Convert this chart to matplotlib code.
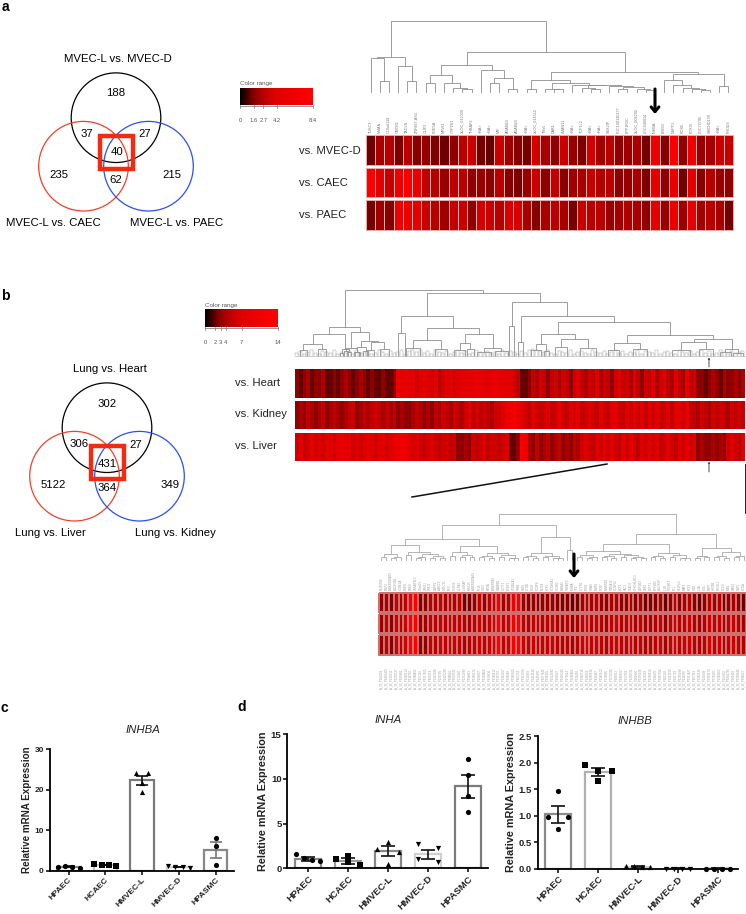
import numpy as np
import matplotlib
matplotlib.use("Agg")
import matplotlib.pyplot as plt
from matplotlib.colors import LinearSegmentedColormap
from matplotlib.patches import Circle, Rectangle

plt.rcParams.update({
    "font.family": ["Liberation Sans", "DejaVu Sans"],
    "font.size": 8,
    "axes.linewidth": 1.3,
})

W, H = 746, 914

# ---- venn counts
venn_a_counts = ["188", "37", "27", "40", "235", "215", "62"]
venn_a_names = ["MVEC-L vs. MVEC-D", "MVEC-L vs. CAEC", "MVEC-L vs. PAEC"]
venn_b_counts = ["302", "306", "27", "431", "5122", "349", "364"]
venn_b_names = ["Lung vs. Heart", "Lung vs. Liver", "Lung vs. Kidney"]

# ---- panel a heatmap
genes_a = ["TUSC3", "MMAA", "C19orf118", "CMTR1", "TAGLN", "ZNF667-AS1", "CLIP2", "PDE5A", "MRVI1", "CYP2S1",
           "XLOC_012039", "THBAP3", "<NA>", "<NA>", "MIF", "ADAM23", "ADAM23", "<NA>", "XLOC_014512", "TMx5",
           "DAB1", "LMAN11", "<NA>", "TCP1L2", "<NA>", "<NA>", "SSX2IP", "LOC100130177", "PPP1R3C", "XLOC_004202",
           "LOC646914", "INHBA", "KISS3", "NUPP1", "ROS5", "FOXI3", "LOC72795", "SMCHD139", "<NA>", "PHOD3"]
rows_a = ["vs. MVEC-D", "vs. CAEC", "vs. PAEC"]
mvec_d = [1.3, 2.3, 2.6, 1.5, 2.8, 1.6, 1.9, 1.5, 1.3, 1.8, 2.7, 3.3, 1.4, 1.2, 3.3, 2.1, 1.6, 1.4, 3.7, 2.3,
          1.8, 3.3, 2.0, 1.5, 3.7, 2.2, 2.7, 1.8, 2.1, 2.3, 1.4, 6.0, 1.6, 7.5, 1.8, 6.0, 2.0, 2.3, 3.3, 3.3]
caec = [8.0, 4.5, 3.3, 6.0, 7.5, 5.5, 3.0, 2.6, 2.0, 2.8, 2.7, 1.8, 2.0, 1.7, 2.7, 1.6, 1.5, 2.0, 3.3, 1.8,
        3.0, 1.7, 2.1, 2.3, 3.3, 2.5, 2.8, 1.7, 2.0, 2.3, 1.5, 4.8, 1.8, 5.0, 1.3, 4.8, 1.6, 2.6, 2.0, 1.8]
paec = [1.4, 2.1, 1.6, 6.0, 5.5, 4.3, 3.3, 2.6, 2.1, 3.2, 3.3, 1.8, 3.7, 3.3, 2.7, 3.9, 3.9, 2.3, 1.6, 2.3,
        2.7, 2.3, 1.4, 3.3, 2.7, 2.7, 2.0, 2.2, 2.5, 2.3, 1.8, 4.8, 2.0, 5.5, 2.1, 5.0, 2.2, 2.7, 2.3, 1.4]
range_a = [0, 1.6, 2.7, 4.2, 8.4]

# nested merges: [height, left, right], a bare number is a column
tree_a = [71,
          [35, [34, 0, [11, 1, 2]], [26, 3, [11, 4, 5]]],
          [40,
           [27,
            [17, [9, 6, 7], [9, 8, [4, 9, [3, 10, 11]]]],
            [22, 12, [14, [9, 13, 14], [3, 15, 16]]]],
           [20,
            [12, [3.5, 17, 18],
             [9, [3.5, 19, [3, 20, 21]],
              [7.5, 22, [7, [4, 23, [3, 24, 25]], [6, 26, [5, [3, 27, 28], [3, 29, [2, 30, 31]]]]]]]],
            [18, [12, 32, [7, 33, [4, 34, [3, 35, [2.5, 36, 37]]]]], [6, 38, 39]]]]]

# ---- panel b upper heatmap (binned columns)
rows_b = ["vs. Heart", "vs. Kidney", "vs. Liver"]
heart = [3, 2, 3, 4, 2, 3, 3, 4, 2, 2, 3, 2, 3, 4, 3, 2, 3, 4, 3, 2, 3, 2, 2, 3, 2, 2, 3,
         10, 8, 9, 7, 8, 6, 7, 8, 7, 6, 7, 5, 6, 7, 8, 6, 7, 7, 8, 8, 8, 9, 8, 8, 7, 8, 9, 8, 8, 7, 7, 6, 5,
         2, 2, 3, 5, 4, 6, 5, 3, 5, 6, 4, 6, 5, 3, 6, 7, 5, 4, 6, 5, 7, 4, 6, 5, 3, 6, 7, 5, 6, 4, 7, 5, 3, 6,
         5, 7, 4, 6, 8, 5, 4, 7, 5, 4, 8, 5, 6, 3, 3, 2, 3, 4, 3, 2, 4, 3, 3, 4, 3, 4]
kidney = [3, 4, 3, 5, 4, 3, 4, 5, 3, 4, 5, 4, 3, 4, 5, 6, 3, 4, 5, 4, 5, 6, 5, 4, 5, 4, 5,
          3, 4, 3, 3, 4, 5, 4, 3, 4, 3, 5, 4, 6, 5, 4, 6, 5, 4, 6, 7, 5, 6, 5, 6, 5, 4, 6, 6, 7, 9, 10, 12, 9,
          8, 6, 5, 7, 6, 5, 6, 7, 5, 6, 8, 6, 5, 7, 6, 8, 5, 6, 7, 6, 5, 7, 6, 5, 7, 8, 6, 5, 7, 6, 8, 6, 7, 5,
          7, 6, 8, 5, 6, 7, 5, 7, 8, 6, 9, 5, 5, 4, 6, 5, 4, 6, 5, 6, 5, 4, 6, 5, 6, 5]
liver = [6, 7, 5, 6, 8, 6, 7, 6, 8, 7, 6, 8, 9, 7, 8, 6, 7, 6, 7, 8, 7, 6, 7, 8, 6, 7, 8,
         9, 11, 10, 8, 6, 7, 6, 5, 6, 7, 6, 5, 6, 6, 5, 6, 3, 3, 4, 3, 6, 5, 6, 7, 5, 6, 6, 5, 6, 7, 2, 2, 3,
         12, 11, 4, 3, 5, 3, 4, 5, 3, 4, 5, 3, 4, 3, 5, 4, 6, 7, 6, 5, 7, 6, 8, 6, 7, 6, 5, 7, 6, 8, 6, 5, 7, 6,
         8, 6, 7, 5, 6, 8, 6, 5, 7, 6, 8, 6, 7, 3, 4, 3, 3, 4, 3, 4, 3, 6, 7, 6, 5, 7]
range_b = [0, 2, 3, 4, 7, 14]

# bare numbers here are positions along the heatmap, 0..1270 from the left of a 1570 wide scan
tree_b = [66,
          [29,
           [22, [12, [6, 310, 330], [7, 360, 384]], [7, [3, 424, 432], [4, 442, 454]]],
           [24, [8, [5, 434, 446], [4, 464, 476]],
            [15, [9, [4, 462, 478], [5, 488, 502]], [14, [6, 500, 520], [7, 536, 560]]]]],
          [63,
           [40,
            [23, 587, 605],
            [28, [16, [8, 610, 650], [7, 690, 724]],
             [22, [13, [6, 745, 775], [7, 780, 800]], [8, [4, 810, 850], [5, 860, 896]]]]],
           [54,
            [30, 900, 915],
            [40,
             [14, 925, 940],
             [34,
              [22, [12, [6, 962, 990], [5, 998, 1012]], [17, [9, 1030, 1064], [8, 1100, 1146]]],
              [21, [13, [6, 1180, 1210], [7, 1250, 1290]],
               [17, [14, [6, 1360, 1410], [7, 1435, 1475]], [7, [4, 1495, 1525], [3, 1530, 1560]]]]]]]]]

leaf_b = [3, 5, 2, 4, 6, 3, 2, 5, 4, 3, 6, 2, 4, 3, 5, 2, 6, 3, 4, 5, 2, 3, 6, 4, 2, 5, 3, 4, 6, 2,
          5, 6, 4, 6, 3, 5, 2, 6, 4, 3, 5, 2, 4, 6, 3, 5, 2, 3, 6, 4, 2, 5, 3, 4, 2, 6, 3, 5, 4, 2,
          5, 3, 6, 7, 6, 5, 4, 6, 3, 2, 5, 4, 3, 6, 2, 4, 5, 3, 2, 6, 4, 3, 5, 2, 4, 6, 3, 5, 2, 4,
          3, 6, 2, 5, 4, 3, 6, 2, 4, 5, 3, 2, 6, 4, 3, 5, 2, 4, 6, 3, 5, 2, 3, 6, 4, 2, 5, 3, 4, 5]

# ---- panel b lower heatmap
genes_low = ["FLJ45340", "FNIP2", "ANKRD20A19", "ALDH1B1", "CCBE1A", "PSEN", "PRKG", "TNFAIP8L3", "CSorf25", "SNX31",
             "TRIO3", "DAPP1", "ABCC3", "LRRC32", "BTK", "CCR7B", "LILRB2", "IL31RAP", "KISS15", "ANKRD20A19",
             "IFI16", "CD37", "MR2A", "ANKRD45", "GABBR2", "GCTT5", "DPEP2", "SCGB1A1", "PRB3", "PLEK",
             "CTGB", "HCST", "DCDP4", "FLJD4", "KCP1", "SCGB3A1", "SCGB3", "MBNA1", "TNFAIP3", "INHBA",
             "SP1", "CYCR1", "FOS3", "HRAS", "MMP3", "RCR7", "ANKRD2", "ISYNA12", "CCNP32", "KCP1",
             "VAC1", "SLAC4", "STRDSLRC3", "ZBP1B3", "VBX1", "DEFT1", "DPF1B3", "ALOX5P", "IL1R", "SYDM12",
             "IFI1", "SELPLG", "MAF1", "KCF3", "IGD1", "IL1A", "CXIL", "NBPT", "HOXB1", "PSIDK3",
             "GCLH", "INB1", "VMD4", "CAP1", "CCDA"]
probes_low = ["164193", "3410405", "215532", "3370127", "105482", "3290114", "316720", "3388402", "257116", "3217605",
              "409218", "3362248", "126735", "3415290", "288041", "3302576", "172946", "3251083", "358821", "3399174",
              "204657", "3328860", "419036", "3266412", "135792", "3381057", "293648", "3240915", "367204", "3351768",
              "110893", "3423516", "245370", "3277649", "398125", "3314082", "183567", "3405239", "272914", "3236801",
              "326450", "3392716", "148029", "3289534", "431867", "3345102", "219685", "3270348", "385912", "3418067",
              "157304", "3258791", "304826", "3376245", "421563", "3228910", "196478", "3367032", "263105", "3412679",
              "342718", "3295480", "118956", "3331827", "407263", "3283516", "231049", "3359174", "376590", "3248263",
              "167832", "3401795", "285416", "3320648", "394027"]
low1 = [1.7, 2.4, 1.5, 3.2, 2.4, 3.0, 7.0, 8.5, 1.5, 1.7, 2.6, 2.4, 2.9, 2.3, 2.8, 2.5, 2.8, 1.3, 1.4, 1.9,
        2.8, 1.9, 2.7, 3.2, 6.5, 2.2, 2.6, 6.0, 7.0, 2.0, 1.7, 1.9, 1.7, 1.8, 1.9, 2.0, 1.6, 1.5, 1.6, 1.1,
        1.4, 2.2, 2.5, 2.2, 2.8, 1.9, 1.8, 2.3, 2.5, 1.8, 2.0, 2.4, 1.6, 2.3, 1.4, 1.5, 1.6, 2.2, 1.2, 2.0,
        2.6, 1.8, 2.3, 2.5, 1.6, 1.3, 1.7, 2.6, 2.1, 2.4, 1.5, 2.0, 2.2, 1.9, 1.2]
low2 = [2.0, 3.0, 1.7, 3.6, 2.6, 3.4, 8.0, 9.5, 2.0, 2.2, 3.0, 2.8, 3.2, 2.8, 3.2, 3.0, 3.2, 2.6, 2.4, 2.8,
        3.4, 2.6, 3.2, 3.8, 8.0, 3.0, 3.4, 7.0, 8.0, 2.8, 2.6, 3.0, 2.8, 2.8, 3.0, 3.0, 2.6, 2.4, 2.6, 2.0,
        2.4, 3.2, 3.4, 2.8, 3.2, 2.6, 2.4, 3.0, 3.4, 2.6, 2.8, 3.2, 2.4, 3.0, 2.2, 2.4, 2.6, 3.2, 2.0, 3.0,
        3.4, 2.6, 3.2, 3.4, 2.6, 2.2, 2.6, 3.6, 3.0, 3.2, 2.4, 3.0, 3.2, 2.8, 2.2]
low3 = [1.9, 2.8, 1.6, 3.4, 2.8, 3.6, 8.5, 9.0, 1.7, 1.8, 3.0, 2.6, 3.4, 3.0, 3.4, 3.2, 3.0, 2.4, 2.6, 3.0,
        3.6, 2.8, 3.4, 4.0, 8.5, 3.2, 3.6, 7.5, 8.5, 3.2, 3.0, 3.4, 3.0, 3.2, 3.2, 3.4, 2.8, 2.6, 2.8, 2.2,
        2.6, 3.4, 3.6, 3.0, 3.4, 2.8, 2.6, 3.2, 3.6, 2.8, 3.0, 3.4, 2.6, 3.2, 2.4, 2.6, 2.8, 3.4, 2.2, 3.2,
        3.6, 2.8, 3.4, 3.6, 2.8, 2.4, 2.8, 3.8, 3.2, 3.4, 2.6, 3.2, 3.4, 3.0, 2.4]

tree_low = [46,
            [35,
             [21,
              [15, [6, [3, 0, 1], [3, [2, 2, 3], 4]],
               [8, [5, 5, 6], [6, [3, [2, 7, 8], 9], [4, [2, 10, 11], [2, 12, 13]]]]],
              [14, [8, [4, 14, 15], [5, [3, 16, 17], [3, 18, 19]]],
               [7, [4, [3, 20, 21], [2, 22, 23]], [5, [3, 24, 25], [2, [2, 26, 27], 28]]]]],
             [23,
              [7, [4, [3, 29, 30], [2, 31, 32]], [4, [3, 33, 34], [2, [2, 35, 36], 37]]],
              [10, 38, 39]]],
            [26,
             [16,
              [9, [5, [3, 40, 41], [3, [2, 42, 43], 44]],
               [6, [4, [3, 45, 46], [2, 47, 48]], [5, [3, 49, 50], [3, [2, 51, 52], [2, 53, 54]]]]],
              [7, [4, [3, 55, 56], [2, 57, 58]], [5, [3, 59, 60], [2, [2, 61, 62], 63]]]],
             [12,
              [4, [2, 64, 65], [3, 66, 67]],
              [8, [4, [3, 68, 69], [2, 70, 71]], [4, [3, 72, 73], 74]]]]]

# ---- panels c, d
cells = ["HPAEC", "HCAEC", "HMVEC-L", "HMVEC-D", "HPASMC"]
cell_markers = ["o", "s", "^", "v", "o"]
spread = [-0.3, -0.1, 0.1, 0.3]

inhba_mean = [1.0, 1.4, 22.3, 0.9, 5.1]
inhba_sem = [0.1, 0.1, 1.1, 0.1, 2.0]
inhba_edge = ["#8a8a8a", "#c4c4c4", "#7a7a7a", "#d0d0d0", "#888888"]
inhba_pts = [[1.0, 1.05, 0.95, 0.7], [1.6, 1.5, 1.45, 1.25], [24.2, 19.5, 24.0, 21.5], [1.2, 1.0, 0.8, 0.7], [8.1, 6.0, 1.3]]
inhba_dx = [spread, spread, [-0.17, 0.0, 0.17, 0.0], spread, [0, 0, 0]]

inha_mean = [1.05, 0.8, 1.9, 1.55, 9.2]
inha_sem = [0.2, 0.3, 0.55, 0.55, 1.3]
inha_edge = ["#8a8a8a", "#9a9a9a", "#888888", "#d0d0d0", "#7a7a7a"]
inha_pts = [[1.55, 1.15, 0.9, 0.8], [1.05, 1.4, 0.65, 0.35], [2.9, 2.2, 1.8, 0.5], [2.7, 2.3, 1.0, 0.7], [12.2, 10.4, 8.1, 6.3]]
inha_dx = [[-0.3, -0.1, 0.1, 0.3], [-0.3, 0, 0, 0.3], [0, -0.28, 0.28, 0], [-0.25, 0.25, -0.25, 0.25], [0, 0, 0, 0]]

inhbb_mean = [1.03, 1.82, 0.04, 0.01, 0.005]
inhbb_sem = [0.16, 0.08, 0.005, 0.005, 0.003]
inhbb_edge = ["#8a8a8a", "#b0b0b0", "#d0d0d0", "#d0d0d0", "#d0d0d0"]
inhbb_pts = [[1.46, 0.98, 0.98, 0.75], [1.96, 1.85, 1.85, 1.66], [0.06, 0.05, 0.04, 0.03], [0.0, -0.01, -0.01, 0.0], [0.0, -0.005, 0.0, 0.0]]
inhbb_dx = [[0, -0.25, 0.25, 0], [-0.33, 0, 0.33, 0], spread, spread, spread]

cmap = LinearSegmentedColormap.from_list("range", [
    (0.0, (0, 0, 0)), (0.19, (135/255, 0, 0)), (0.32, (185/255, 0, 0)),
    (0.5, (225/255, 0, 0)), (1.0, (1, 0, 0))])

fig = plt.figure(figsize=(W/100, H/100), dpi=100)
ax = fig.add_axes([0, 0, 1, 1])
ax.set_xlim(0, W)
ax.set_ylim(H, 0)
ax.axis("off")


def venn(cx, cy, counts, names, square, spots, name_spots):
    for dx, dy, col in [(0, 0, "black"), (-32.5, 48.5, "#f0402a"), (32.5, 48.5, "#2a50f0")]:
        ax.add_patch(Circle((cx + dx, cy + dy), 44.8, fill=False, ec=col, lw=0.9))
    ax.add_patch(Rectangle(square[:2], square[2], square[3], fill=False, ec="#f22a10", lw=3.2, zorder=3))
    for s, (x, y) in zip(counts, spots):
        ax.text(x, y, s, ha="center", va="center", fontsize=8.2, zorder=4)
    for s, (x, y) in zip(names, name_spots):
        ax.text(x, y, s, ha="center", va="center", fontsize=8.2)


venn(116, 117.7, venn_a_counts, venn_a_names, (99.5, 135.5, 33, 33),
     [(116, 93), (87, 134), (145, 134), (117, 152), (59, 175), (172, 175), (116, 180)],
     [(118, 59), (53, 223), (177, 223)])
venn(107, 427.7, venn_b_counts, venn_b_names, (91, 445.5, 33, 33),
     [(107, 404), (79, 444), (136, 445), (107, 464), (53, 485), (170, 485), (107, 488)],
     [(110, 369), (50, 533), (175, 533)])


def heat_row(vals, x0, x1, y0, y1, vmax, edge=None, lw=0.0):
    xs = np.linspace(x0, x1, len(vals) + 1)
    ax.pcolormesh(xs, [y0, y1], np.array(vals)[None, :], cmap=cmap, vmin=0, vmax=vmax,
                  edgecolors=edge if edge else "face", linewidth=lw)


def color_range(x0, x1, y0, y1, ticks, label_y):
    vmax = ticks[-1]
    grad = np.linspace(0, vmax, 256)
    ax.pcolormesh(np.linspace(x0, x1, 257), [y0, y1], grad[None, :], cmap=cmap, vmin=0, vmax=vmax)
    ax.plot([x0, x1], [y1 + 0.5, y1 + 0.5], color="#999999", lw=0.7)
    ax.text(x0, y0 - 4, "Color range", fontsize=4.5, color="#555555", va="center")
    for t in ticks:
        px = x0 + (x1 - x0) * t / vmax
        ax.plot([px, px], [y1, y1 + 2.5], color="#777777", lw=0.5)
        ax.text(px, label_y, f"{t:g}", fontsize=4.2, color="#555555", ha="center", va="center")


def dendro(node, to_x, base, scale, color="#8e8e8e", lw=0.6):
    # returns x, y of the node so the parent can join on
    if not isinstance(node, list):
        return to_x(node), base
    lx, ly = dendro(node[1], to_x, base, scale, color, lw)
    rx, ry = dendro(node[2], to_x, base, scale, color, lw)
    y = base - node[0] * scale
    ax.plot([lx, lx, rx, rx], [ly, y, y, ry], color=color, lw=lw, solid_joinstyle="miter")
    return (lx + rx) / 2, y


def arrow(x, y0, y1, lw, head):
    ax.annotate("", xy=(x, y1), xytext=(x, y0), zorder=6,
                arrowprops=dict(arrowstyle=f"->,head_width={head},head_length={head*1.2}",
                                lw=lw, color="black", shrinkA=0, shrinkB=0))


# panel a right side
xa0, xa1 = 366, 733
for vals, (y0, y1), name in zip([mvec_d, caec, paec], [(135, 165), (168, 197), (200, 230)], rows_a):
    heat_row(vals, xa0, xa1, y0, y1, range_a[-1], edge="#e8a8a8", lw=0.45)
    ax.text(299, (y0 + y1) / 2 + 0.5, name, fontsize=8.1, va="center", color="#222222")
color_range(240, 313, 88, 105, range_a, 120)
cw = (xa1 - xa0) / len(genes_a)
dendro(tree_a, lambda c: xa0 + cw * (c + 0.5), 92, 1.0)
for i, g in enumerate(genes_a):
    ax.text(xa0 + cw * (i + 0.5), 133, g, rotation=90, fontsize=2.7, color="#777777", ha="center", va="bottom")
arrow(655, 89, 114, 2.2, 0.35)

# panel b right side
xb0, xb1 = 295, 745
for vals, (y0, y1), name in zip([heart, kidney, liver], [(369, 397.5), (400.5, 429), (432.5, 461)], rows_b):
    heat_row(vals, xb0, xb1, y0, y1, range_b[-1])
    ax.text(235, (y0 + y1) / 2 - 0.5, name, fontsize=8.1, va="center", color="#222222")
color_range(205, 278, 309, 327, range_b, 342)
dendro(tree_b, lambda p: 190 + p / 2.82, 356, 1.0, lw=0.6)
step = (xb1 - xb0) / len(leaf_b)
for i, h in enumerate(leaf_b):
    lx = xb0 + step * i
    ax.plot([lx, lx, lx + step * 0.8, lx + step * 0.8], [356, 356 - h, 356 - h, 356], color="#a0a0a0", lw=0.35)
ax.plot([xb0, xb1], [356, 356], color="#bbbbbb", lw=0.5)
arrow(709, 367, 358, 0.5, 0.07)
arrow(709, 472, 462, 0.5, 0.07)
ax.plot([412, 607], [497, 464], color="#111111", lw=1.1)
ax.plot([745.5, 745.5], [465, 513], color="#111111", lw=1.3)

# lower zoomed heatmap
xl0, xl1 = 379, 746
for vals, (y0, y1) in zip([low1, low2, low3], [(592.7, 612), (614, 633), (635, 655)]):
    heat_row(vals, xl0, xl1, y0, y1, range_b[-1] * 0.6, edge="#cf7070", lw=0.3)
cl = (xl1 - xl0) / len(genes_low)
dendro(tree_low, lambda c: xl0 + cl * (c + 0.5), 560, 1.0, color="#a8a8a8", lw=0.6)
for i, g in enumerate(genes_low):
    ax.text(xl0 + cl * (i + 0.5), 590, g, rotation=90, fontsize=2.0, color="#999999", ha="center", va="bottom")
for i, p in enumerate(probes_low):
    ax.text(xl0 + cl * (i + 0.5), 689, "A_33_P" + p, rotation=90, fontsize=2.0, color="#999999", ha="center", va="bottom")
arrow(574, 554, 578, 2.2, 0.35)

# panel letters
for s, x, y in [("a", 5, 7), ("b", 5, 296), ("c", 4, 708), ("d", 242, 707)]:
    ax.text(x, y, s, fontsize=10, fontweight="bold", ha="center", va="center")


def bars(box, title, title_xy, means, sems, edges, pts, dxs, ylim, yticks, ticklabels, size, xsize, label_size, bw, cap):
    # box is left, right, y of zero line, y of top tick, all in pixels
    left, right, y0, ytop = box
    sub = fig.add_axes([left / W, 1 - y0 / H, (right - left) / W, (y0 - ytop) / H])
    sub.patch.set_alpha(0)
    x = np.arange(len(cells))
    sub.bar(x, means, width=bw, facecolor="white", edgecolor=edges, linewidth=1.6, zorder=2)
    for i in x:
        col = "#111111" if pts[i] is not inhba_pts[4] else "#777777"
        sub.errorbar(i, means[i], yerr=sems[i], color=col, capsize=cap, elinewidth=1.2, capthick=1.2, zorder=3)
        sub.scatter(i + np.array(dxs[i]), pts[i], marker=cell_markers[i], s=14, color="black", linewidths=0,
                    zorder=4, clip_on=False)
    sub.set_xlim(-0.52, 4.5)
    sub.set_ylim(*ylim)
    sub.set_yticks(yticks)
    sub.set_yticklabels(ticklabels, fontsize=size, fontweight="bold", color="#222222")
    sub.set_xticks(x)
    sub.set_xticklabels(cells, rotation=45, ha="right", rotation_mode="anchor", fontsize=xsize,
                        fontweight="bold", color="#222222")
    sub.tick_params(length=2.6, width=1.1, pad=1.5)
    sub.set_ylabel("Relative mRNA Expression", fontsize=label_size, fontweight="bold", color="#222222", labelpad=2)
    for side in ["top", "right"]:
        sub.spines[side].set_visible(False)
    ax.text(*title_xy, title, fontsize=8.2, style="italic", ha="center", va="center", color="#222222")


bars((49.5, 234, 870.7, 749), "INHBA", (143, 730), inhba_mean, inhba_sem, inhba_edge, inhba_pts, inhba_dx,
     (0, 30), [0, 10, 20, 30], ["0", "10", "20", "30"], 6.0, 6.0, 7.1, 0.64, 4.3)
bars((287.3, 488, 868.3, 734.3), "INHA", (388, 720), inha_mean, inha_sem, inha_edge, inha_pts, inha_dx,
     (0, 15), [0, 5, 10, 15], ["0", "5", "10", "15"], 6.8, 6.8, 7.8, 0.65, 5)
bars((537.7, 738, 868.7, 736), "INHBB", (635, 721), inhbb_mean, inhbb_sem, inhbb_edge, inhbb_pts, inhbb_dx,
     (0, 2.5), [0, 0.5, 1, 1.5, 2, 2.5], ["0.0", "0.5", "1.0", "1.5", "2.0", "2.5"], 6.8, 6.8, 7.8, 0.65, 5)

fig.savefig("out.png", dpi=100)
